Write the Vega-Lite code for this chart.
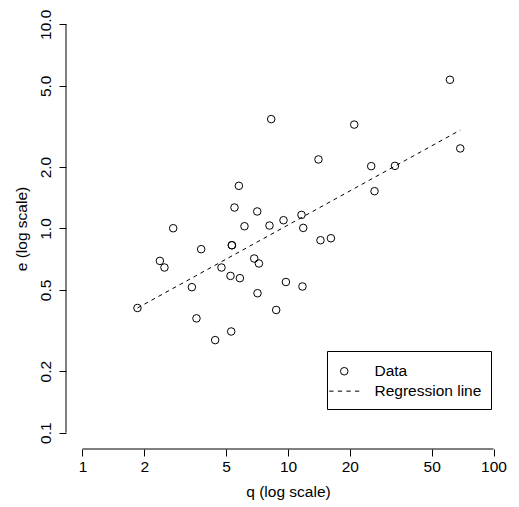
{
  "$schema": "https://vega.github.io/schema/vega-lite/v6.json",
  "width": 444,
  "height": 441,
  "autosize": {"type": "none"},
  "padding": {"left": 66, "top": 8, "right": 9, "bottom": 58},
  "background": "white",
  "config": {
    "view": {"stroke": null},
    "font": "Liberation Sans",
    "axis": {
      "domain": false,
      "grid": false,
      "ticks": true,
      "tickColor": "black",
      "tickWidth": 1,
      "tickSize": 7,
      "labelColor": "black",
      "labelFont": "Liberation Sans",
      "labelFontSize": 15.5,
      "titleFont": "Liberation Sans",
      "titleFontSize": 15.5,
      "titleFontWeight": "normal",
      "titleColor": "black"
    },
    "legend": {
      "orient": "none",
      "legendX": 261,
      "legendY": 343,
      "strokeColor": "black",
      "padding": 9,
      "symbolOffset": 0.5,
      "labelOffset": 22.5,
      "labelFont": "Liberation Sans",
      "labelFontSize": 15.5,
      "labelColor": "black",
      "labelLimit": 0,
      "symbolStrokeColor": "black",
      "symbolFillColor": "transparent",
      "symbolStrokeWidth": 1,
      "symbolSize": 57,
      "rowPadding": 2.9,
      "titleFontSize": 2,
      "titlePadding": 1.5,
      "titleColor": "white"
    }
  },
  "datasets": {
    "pts": [
      {"q": 1.852, "e": 0.408, "series": "Data"},
      {"q": 2.381, "e": 0.694, "series": "Data"},
      {"q": 2.506, "e": 0.644, "series": "Data"},
      {"q": 2.763, "e": 1.003, "series": "Data"},
      {"q": 3.407, "e": 0.516, "series": "Data"},
      {"q": 3.587, "e": 0.363, "series": "Data"},
      {"q": 3.781, "e": 0.792, "series": "Data"},
      {"q": 4.423, "e": 0.284, "series": "Data"},
      {"q": 4.747, "e": 0.644, "series": "Data"},
      {"q": 5.251, "e": 0.586, "series": "Data"},
      {"q": 5.292, "e": 0.313, "series": "Data"},
      {"q": 5.333, "e": 0.828, "series": "Data"},
      {"q": 5.333, "e": 0.828, "series": "Data"},
      {"q": 5.491, "e": 1.267, "series": "Data"},
      {"q": 5.768, "e": 1.618, "series": "Data"},
      {"q": 5.834, "e": 0.571, "series": "Data"},
      {"q": 6.142, "e": 1.026, "series": "Data"},
      {"q": 6.849, "e": 0.713, "series": "Data"},
      {"q": 7.083, "e": 1.212, "series": "Data"},
      {"q": 7.107, "e": 0.482, "series": "Data"},
      {"q": 7.219, "e": 0.674, "series": "Data"},
      {"q": 8.128, "e": 1.034, "series": "Data"},
      {"q": 8.284, "e": 3.434, "series": "Data"},
      {"q": 8.761, "e": 0.399, "series": "Data"},
      {"q": 9.508, "e": 1.098, "series": "Data"},
      {"q": 9.768, "e": 0.547, "series": "Data"},
      {"q": 11.63, "e": 1.166, "series": "Data"},
      {"q": 11.76, "e": 0.52, "series": "Data"},
      {"q": 11.86, "e": 1.007, "series": "Data"},
      {"q": 14.07, "e": 2.179, "series": "Data"},
      {"q": 14.39, "e": 0.876, "series": "Data"},
      {"q": 16.17, "e": 0.896, "series": "Data"},
      {"q": 21.0, "e": 3.228, "series": "Data"},
      {"q": 25.4, "e": 2.02, "series": "Data"},
      {"q": 26.36, "e": 1.523, "series": "Data"},
      {"q": 33.13, "e": 2.027, "series": "Data"},
      {"q": 61.34, "e": 5.351, "series": "Data"},
      {"q": 68.86, "e": 2.467, "series": "Data"}
    ],
    "reg": [
      {"q": 1.852, "e": 0.408},
      {"q": 68.86, "e": 3.033}
    ]
  },
  "layer": [
    {
      "data": {"name": "pts"},
      "mark": {"type": "point", "filled": false, "stroke": "black", "strokeWidth": 1, "size": 57, "opacity": 1},
      "encoding": {
        "x": {
          "field": "q", "type": "quantitative",
          "scale": {"type": "log", "domain": [0.831764, 120.226], "nice": false, "zero": false},
          "axis": {
            "title": "q (log scale)",
            "values": [1, 2, 5, 10, 20, 50, 100],
            "format": "d",
            "labelBaseline": "top",
            "labelPadding": 3,
            "labelFlush": false,
            "labelOverlap": false,
            "titleBaseline": "alphabetic",
            "titleY": 47
          }
        },
        "y": {
          "field": "e", "type": "quantitative",
          "scale": {"type": "log", "domain": [0.0831764, 12.0226], "nice": false, "zero": false},
          "axis": {
            "title": "e (log scale)",
            "values": [0.1, 0.2, 0.5, 1, 2, 5, 10],
            "format": ".1f",
            "labelAngle": 270,
            "labelAlign": "center",
            "labelBaseline": "alphabetic",
            "labelPadding": 9,
            "labelFlush": false,
            "labelOverlap": false,
            "titleAngle": 270,
            "titleBaseline": "alphabetic",
            "titleAlign": "center",
            "titleX": -40,
            "titleY": 220.5
          }
        },
        "shape": {
          "field": "series", "type": "nominal",
          "scale": {
            "domain": ["Data", "Regression line"],
            "range": ["circle", "M-3.975,0H-2.839M-1.704,0H-0.568M0.568,0H1.704M2.839,0H3.975"]
          },
          "legend": {"title": " "}
        }
      }
    },
    {
      "data": {"name": "reg"},
      "mark": {"type": "line", "stroke": "black", "strokeWidth": 1, "strokeDash": [4, 4]},
      "encoding": {
        "x": {"field": "q", "type": "quantitative"},
        "y": {"field": "e", "type": "quantitative"}
      }
    },
    {
      "data": {"values": [{}]},
      "mark": {"type": "rule", "stroke": "black", "strokeWidth": 1},
      "encoding": {
        "x": {"datum": 1},
        "x2": {"datum": 100},
        "y": {"datum": 0.0831764}
      }
    },
    {
      "data": {"values": [{}]},
      "mark": {"type": "rule", "stroke": "black", "strokeWidth": 1},
      "encoding": {
        "x": {"datum": 0.831764},
        "y": {"datum": 0.1},
        "y2": {"datum": 10}
      }
    }
  ]
}
